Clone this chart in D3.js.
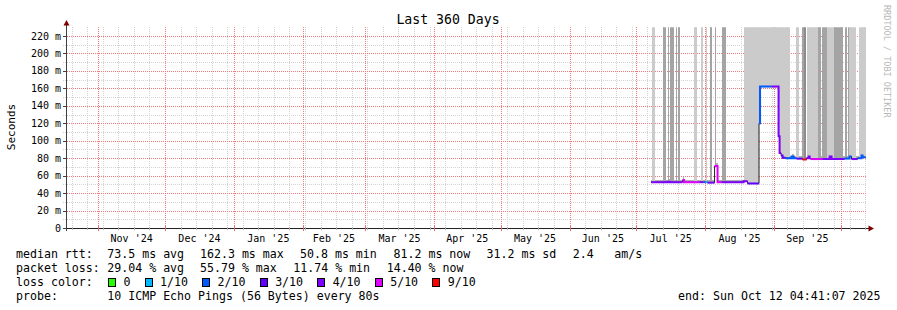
<!DOCTYPE html>
<html>
<head>
<meta charset="utf-8">
<script src="https://cdn.jsdelivr.net/npm/d3@7"></script>
<style>
  body { margin: 0; background: #fff; }
  svg { display: block; font-family: "DejaVu Sans Mono", monospace; }
</style>
</head>
<body>
<div id="chart"></div>
<script>
// ---- data ----
// median rtt, step-wise: each value holds from its date until the next date
var medianDates = [
  "2025-07-07T16:00", "2025-07-15T02:00", "2025-07-16T00:00", "2025-07-21T20:00",
  "2025-07-22T12:00", "2025-07-29T12:00", "2025-07-31T07:00", "2025-08-01T04:30",
  "2025-08-02T02:00", "2025-08-04T08:00", "2025-08-05T06:00", "2025-08-06T14:00",
  "2025-08-08T09:00", "2025-08-18T07:00", "2025-08-20T02:00", "2025-08-25T06:00",
  "2025-08-25T17:00", "2025-08-30T21:00", "2025-09-03T01:00", "2025-09-03T12:00",
  "2025-09-04T04:00", "2025-09-04T20:00", "2025-09-06T04:30", "2025-09-08T21:00",
  "2025-09-09T19:00", "2025-09-11T03:00", "2025-09-13T20:00", "2025-09-15T15:00",
  "2025-09-16T13:00", "2025-09-17T00:00", "2025-09-17T10:30", "2025-09-22T20:00",
  "2025-09-26T00:00", "2025-09-26T21:00", "2025-10-02T18:00", "2025-10-05T00:00",
  "2025-10-05T21:00", "2025-10-08T14:00", "2025-10-10T09:00", "2025-10-10T20:00",
  "2025-10-12T04:41"
];
var medianMs = [
  52.5, 53.0, 52.5, 55.0, 52.5, 52.5, 52.5, 52.5, 52.0, 52.0,
  71.0, 52.5, 52.5, 53.5, 51.0, 120.0, 162.0, 162.0, 105.0, 86.0,
  83.0, 80.5, 80.0, 82.0, 80.0, 79.5, 78.5, 80.0, 82.0, 80.0,
  79.0, 79.0, 82.0, 79.0, 79.5, 82.0, 79.0, 80.0, 83.0, 81.0
];
var lossCount = [
  4, 4, 4, 5, 5, 4, 2, 1, 4, 3,
  5, 5, 4, 4, 3, 2, 2, 4, 4, 4,
  3, 3, 2, 2, 2, 3, 9, 4, 4, 4,
  5, 4, 4, 4, 2, 2, 4, 2, 2, 2
];

// smoke stripes (0 light, 1 dark, 2 darker)
var smokeFrom = [
  "2025-07-08T03:00", "2025-07-12T20:00", "2025-07-15T02:00", "2025-07-16T00:00",
  "2025-07-18T16:30", "2025-07-19T14:00", "2025-07-26T19:00", "2025-07-30T04:00",
  "2025-08-01T04:30", "2025-08-03T00:00", "2025-08-05T06:00", "2025-08-08T14:30",
  "2025-08-18T07:00", "2025-09-10T16:30", "2025-09-13T09:00", "2025-09-14T07:00",
  "2025-09-15T20:30", "2025-09-20T17:00", "2025-09-22T17:00", "2025-09-24T23:00",
  "2025-09-28T02:30", "2025-10-01T12:30", "2025-10-02T18:00", "2025-10-04T02:00",
  "2025-10-04T16:00", "2025-10-09T01:00"
];
var smokeTo = [
  "2025-07-09T06:00", "2025-07-14T10:00", "2025-07-15T18:00", "2025-07-17T19:00",
  "2025-07-19T03:00", "2025-07-20T12:00", "2025-07-28T03:00", "2025-07-31T01:30",
  "2025-08-01T20:30", "2025-08-03T21:00", "2025-08-05T16:30", "2025-08-10T04:30",
  "2025-09-08T05:00", "2025-09-12T01:00", "2025-09-14T01:30", "2025-09-15T04:30",
  "2025-09-20T17:00", "2025-09-21T22:30", "2025-09-24T23:00", "2025-09-28T00:00",
  "2025-10-01T09:30", "2025-10-01T23:30", "2025-10-03T15:30", "2025-10-04T16:00",
  "2025-10-08T00:00", "2025-10-12T04:41"
];
var smokeShade = [
  0, 1, 1, 1, 1, 1, 0, 0, 0, 1, 1, 1,
  0, 0, 1, 2, 0, 1, 1, 0, 1, 1, 1, 1,
  0, 0
];

var lossLevels = [0, 1, 2, 3, 4, 5, 9];
var lossLabels = ["0", "1/10", "2/10", "3/10", "4/10", "5/10", "9/10"];
var lossColors = ["#26ff00", "#00b8ff", "#0059ff", "#5e00ff", "#7e00ff", "#dd00ff", "#ff0000"];

var yTicks = [0, 20, 40, 60, 80, 100, 120, 140, 160, 180, 200, 220];
var yTickLabels = ["0", "20 m", "40 m", "60 m", "80 m", "100 m", "120 m", "140 m", "160 m", "180 m", "200 m", "220 m"];
var monthTicks = ["2024-11-01", "2024-12-01", "2025-01-01", "2025-02-01", "2025-03-01", "2025-04-01",
                  "2025-05-01", "2025-06-01", "2025-07-01", "2025-08-01", "2025-09-01", "2025-10-01"];
var monthLabels = ["Nov '24", "Dec '24", "Jan '25", "Feb '25", "Mar '25", "Apr '25",
                   "May '25", "Jun '25", "Jul '25", "Aug '25", "Sep '25"];

// ---- setup ----
var width = 897, height = 310;
var parseT = d3.timeParse("%Y-%m-%dT%H:%M"),
    parseD = d3.timeParse("%Y-%m-%d");
var start = new Date(2024, 9, 17, 4, 41, 7),
    end = new Date(2025, 9, 12, 4, 41, 7);

var x = d3.scaleTime().domain([start, end]).range([65.4, 865.6]);
var y = d3.scaleLinear().domain([0, 230]).range([228, 228 - 230 * 192 / 220]);

var svg = d3.select("#chart")
  .append("svg")
  .attr("width", width)
  .attr("height", height);

svg.append("rect").attr("width", width).attr("height", height).attr("fill", "#fff");

svg.append("clipPath").attr("id", "plotclip")
  .append("rect").attr("x", 67).attr("y", y(230)).attr("width", 799).attr("height", 228 - y(230));

var smokeColors = ["#cbcbcb", "#a4a4a4", "#8c8c8c"];
var minorColor = "#d2d2d2", majorColor = "#f27a7a";
var pts = medianDates.map(parseT);

function colorFor(c) {
  var k = 0;
  lossLevels.forEach(function(l, i) { if (c >= l) k = i; });
  return lossColors[k];
}
function px(v) { return Math.round(v) + 0.5; }

// ---- grid: dotted lines, one pixel on, one off ----
var grid = svg.append("g").attr("shape-rendering", "crispEdges");
function hDots(yy, x0, x1, col) {
  var p = "";
  for (var xx = x0; xx < x1; xx += 2) p += "M" + xx + "," + yy + "h1v1h-1z";
  grid.append("path").attr("d", p).attr("fill", col);
}
function vDots(xx, y0, y1, col) {
  var p = "";
  for (var yy = y0; yy < y1; yy += 2) p += "M" + xx + "," + yy + "h1v1h-1z";
  grid.append("path").attr("d", p).attr("fill", col);
}

var yTop = Math.round(y(230));
d3.range(10, 230, 20).forEach(function(v) { hDots(Math.round(y(v)), 63, 866, minorColor); });
d3.timeSunday.range(start, end).forEach(function(d) { vDots(Math.round(x(d)), yTop, 228, minorColor); });
yTicks.forEach(function(v) { if (v > 0) hDots(Math.round(y(v)), 63, 866, majorColor); });
monthTicks.forEach(function(m) { vDots(Math.round(x(parseD(m))), yTop, 228, majorColor); });

// ---- smoke ----
var plot = svg.append("g").attr("clip-path", "url(#plotclip)").attr("shape-rendering", "crispEdges");

// thin smoke hugging the median
medianMs.forEach(function(v, i) {
  plot.append("rect")
    .attr("x", x(pts[i])).attr("width", Math.max(1, x(pts[i + 1]) - x(pts[i])))
    .attr("y", y(v + 3)).attr("height", y(v) - y(v + 3))
    .attr("fill", "#b0b0b0");
});

smokeFrom.forEach(function(f, k) {
  var t0 = parseT(f), t1 = parseT(smokeTo[k]);
  medianMs.forEach(function(v, i) {
    var a = Math.max(+t0, +pts[i]), b = Math.min(+t1, +pts[i + 1]);
    if (b <= a) return;
    plot.append("rect")
      .attr("x", Math.round(x(a))).attr("width", Math.max(1, Math.round(x(b)) - Math.round(x(a))))
      .attr("y", y(230)).attr("height", y(v) - y(230))
      .attr("fill", smokeColors[smokeShade[k]]);
  });
});

// ---- median line ----
var line = d3.line()
  .x(function(d) { return x(d.t); })
  .y(function(d) { return y(d.v); })
  .curve(d3.curveStepAfter);

var all = medianMs.map(function(v, i) { return {t: pts[i], v: v}; });
all.push({t: pts[pts.length - 1], v: medianMs[medianMs.length - 1]});

svg.append("path")
  .attr("d", line(all))
  .attr("fill", "none")
  .attr("stroke", "#202020")
  .attr("stroke-width", 1);

// coloured runs by loss
var i = 0;
while (i < medianMs.length) {
  var c = colorFor(lossCount[i]), j = i;
  while (j + 1 < medianMs.length && colorFor(lossCount[j + 1]) === c) j++;
  var run = [];
  for (var k = i; k <= j; k++) run.push({t: pts[k], v: medianMs[k]});
  run.push({t: pts[j + 1], v: medianMs[j]});
  svg.append("path")
    .attr("d", line(run))
    .attr("fill", "none")
    .attr("stroke", c)
    .attr("stroke-width", 2);
  i = j + 1;
}

// ---- axes ----
var axis = svg.append("g").attr("shape-rendering", "crispEdges");
axis.append("line").attr("x1", 66.5).attr("x2", 66.5).attr("y1", 231).attr("y2", 24)
  .attr("stroke", "#404040");
axis.append("line").attr("x1", 63).attr("x2", 869).attr("y1", 228.5).attr("y2", 228.5)
  .attr("stroke", "#202020");

// y ticks
yTicks.forEach(function(v) {
  axis.append("line").attr("x1", 63).attr("x2", 67).attr("y1", px(y(v))).attr("y2", px(y(v)))
    .attr("stroke", "#404040");
});
// x ticks
d3.timeSunday.range(start, end).forEach(function(d) {
  axis.append("line").attr("x1", px(x(d))).attr("x2", px(x(d))).attr("y1", 227).attr("y2", 230)
    .attr("stroke", "#b0b0b0");
});
monthTicks.forEach(function(m) {
  var d = parseD(m);
  axis.append("line").attr("x1", px(x(d))).attr("x2", px(x(d))).attr("y1", 226).attr("y2", 231)
    .attr("stroke", "#e07070");
});

// arrows
svg.append("path").attr("d", "M66.5,20 L69.5,25.5 L63.5,25.5 Z").attr("fill", "#7f0000");
svg.append("path").attr("d", "M874,228.5 L868.5,225.5 L868.5,231.5 Z").attr("fill", "#7f0000");

// y labels
svg.append("g").selectAll("text")
  .data(yTicks)
  .enter()
  .append("text")
  .attr("x", 61).attr("y", function(d) { return y(d); })
  .attr("dy", "0.35em")
  .attr("text-anchor", "end")
  .style("font-size", "10px")
  .style("fill", "#000")
  .text(function(d, i) { return yTickLabels[i]; });

// month labels, centred in the month
svg.append("g").selectAll("text")
  .data(monthLabels)
  .enter()
  .append("text")
  .attr("x", function(d, i) {
    return (x(parseD(monthTicks[i])) + x(parseD(monthTicks[i + 1]))) / 2;
  })
  .attr("y", 241.5)
  .attr("text-anchor", "middle")
  .style("font-size", "10px")
  .text(function(d) { return d; });

// title, unit, watermark
svg.append("text").attr("x", 448).attr("y", 24).attr("text-anchor", "middle")
  .style("font-size", "13.2px").text("Last 360 Days");
svg.append("text").attr("transform", "translate(15,127) rotate(-90)").attr("text-anchor", "middle")
  .style("font-size", "11px").text("Seconds");
svg.append("text").attr("transform", "translate(884,5) rotate(90)")
  .style("font-size", "8.5px").style("fill", "#b8b8b8").text("RRDTOOL / TOBI OETIKER");

// ---- legend ----
var lg = svg.append("g").style("font-size", "11.6px").style("white-space", "pre");
var rows = [
  [258, [["median rtt:", 16], ["73.5 ms avg", 107.3], ["162.3 ms max", 200], ["50.8 ms min", 300],
         ["81.2 ms now", 393.5], ["31.2 ms sd", 486.5], ["2.4", 572.7], ["am/s", 614.3]]],
  [272, [["packet loss:", 16], ["29.04 % avg", 107.3], ["55.79 % max", 200], ["11.74 % min", 293.3],
         ["14.40 % now", 386.7]]],
  [286, [["loss color:", 16]]],
  [300, [["probe:", 16], ["10 ICMP Echo Pings (56 Bytes) every 80s", 107.3]]]
];
rows.forEach(function(r) {
  r[1].forEach(function(p) {
    lg.append("text").attr("x", p[1]).attr("y", r[0]).text(p[0]);
  });
});
lg.append("text").attr("x", 880.5).attr("y", 300).attr("text-anchor", "end")
  .text("end: Sun Oct 12 04:41:07 2025");

var lx = 108.5;
lossLabels.forEach(function(l, i) {
  lg.append("rect").attr("x", lx).attr("y", 278.5).attr("width", 7).attr("height", 8)
    .attr("fill", lossColors[i]).attr("stroke", "#000").attr("shape-rendering", "crispEdges");
  var t = lg.append("text").attr("x", lx + 15).attr("y", 286).text(l);
  lx = lx + 15 + t.node().getComputedTextLength() + 14.6;
});
</script>
</body>
</html>
